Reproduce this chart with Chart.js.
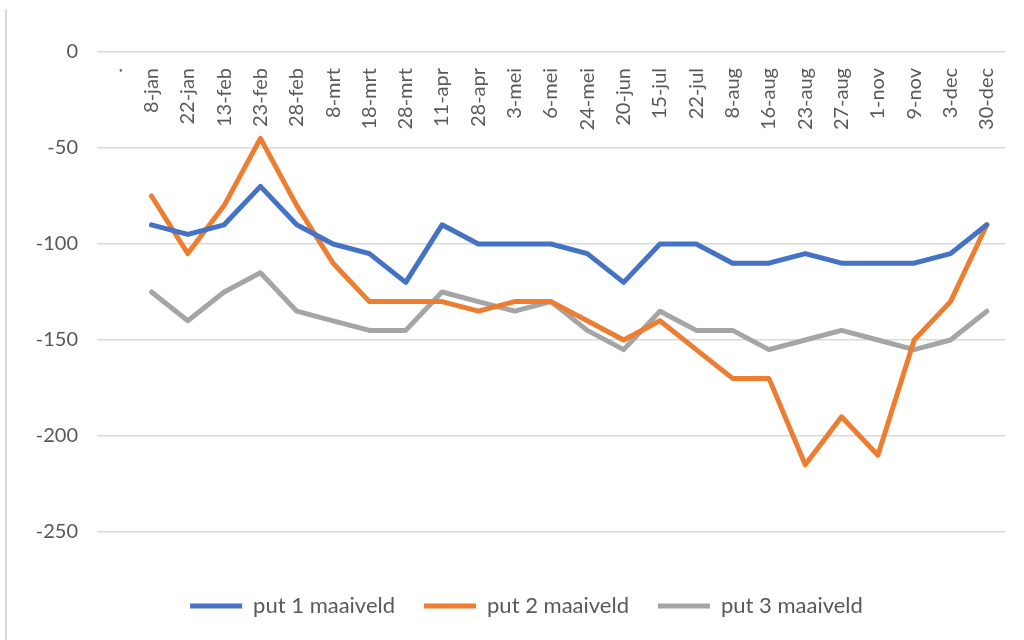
<!DOCTYPE html>
<html>
<head>
<meta charset="utf-8">
<script src="https://cdn.jsdelivr.net/npm/chart.js@4.4.0/dist/chart.umd.min.js"></script>
<style>
body{margin:0;background:#fff}
#wrap{position:relative;width:1024px;height:640px}
#frame{position:absolute;left:5px;top:9px;height:631px;border-left:2px solid #d9d9d9}
canvas{position:absolute;left:0;top:0}
</style>
</head>
<body>
<div id="wrap">
<div id="frame"></div>
<canvas id="myChart" width="1024" height="640"></canvas>
</div>
<script>
// data
let labels = ['.', '8-jan', '22-jan', '13-feb', '23-feb', '28-feb', '8-mrt', '18-mrt', '28-mrt', '11-apr', '28-apr', '3-mei', '6-mei',
    '24-mei', '20-jun', '15-jul', '22-jul', '8-aug', '16-aug', '23-aug', '27-aug', '1-nov', '9-nov', '3-dec', '30-dec']
let put1 = [null, -90, -95, -90, -70, -90, -100, -105, -120, -90, -100, -100, -100,
    -105, -120, -100, -100, -110, -110, -105, -110, -110, -110, -105, -90]
let put2 = [null, -75, -105, -80, -45, -80, -110, -130, -130, -130, -135, -130, -130,
    -140, -150, -140, -155, -170, -170, -215, -190, -210, -150, -130, -90]
let put3 = [null, -125, -140, -125, -115, -135, -140, -145, -145, -125, -130, -135, -130,
    -145, -155, -135, -145, -145, -155, -150, -145, -150, -155, -150, -135]
let yTicks = [0, -50, -100, -150, -200, -250]

let textColor = '#595959'
let font = 'Lato'

// category labels hang under the 0 line
let topLabels = {
    id: 'topLabels',
    beforeDraw(chart){
        // legend sits a bit right of the canvas centre
        chart.legend.left = 48
    },
    afterDraw(chart){
        let xs = chart.scales.x
        let ys = chart.scales.y
        let ctx = chart.ctx
        let y0 = ys.getPixelForValue(0) + 16
        ctx.save()
        ctx.fillStyle = textColor
        ctx.font = '20px ' + font
        ctx.textAlign = 'right'
        ctx.textBaseline = 'middle'
        labels.forEach(function(lab, i){
            ctx.save()
            ctx.translate(xs.getPixelForValue(i), y0)
            ctx.rotate(-Math.PI / 2)
            ctx.fillText(lab, 0, 0)
            ctx.restore()
        })
        ctx.restore()
    }
}

function line(label, data, color){
    return {
        label: label,
        data: data,
        borderColor: color,
        backgroundColor: color,
        borderWidth: 5,
        borderJoinStyle: 'round',
        borderCapStyle: 'round',
        pointRadius: 0,
        tension: 0
    }
}

let ctx = document.getElementById('myChart').getContext('2d')
let myChart = new Chart(ctx, {
    type: 'line',
    data: {
        labels: labels,
        datasets: [
            line('put 1 maaiveld', put1, '#4472c4'),
            line('put 2 maaiveld', put2, '#ed7d31'),
            line('put 3 maaiveld', put3, '#a5a5a5')
        ]
    },
    plugins: [topLabels],
    options: {
        responsive: false,
        animation: false,
        layout: {
            padding: {left: 0, right: 19, top: 52, bottom: 13}
        },
        scales: {
            x: {
                offset: true,
                grid: {display: false},
                border: {display: false},
                ticks: {display: false},
                afterFit: function(s){ s.height = 34 }
            },
            y: {
                min: -250,
                max: 0,
                afterBuildTicks: function(s){ s.ticks = yTicks.map(v => ({value: v})) },
                afterFit: function(s){ s.width = 97 },
                grid: {color: '#d9d9d9', lineWidth: 1.5, drawTicks: false},
                border: {display: false},
                ticks: {
                    color: textColor,
                    padding: 19,
                    font: {family: font, size: 20}
                }
            }
        },
        plugins: {
            tooltip: {enabled: false},
            legend: {
                position: 'bottom',
                labels: {
                    color: textColor,
                    font: {family: font, size: 22},
                    boxWidth: 52,
                    boxHeight: 5,
                    padding: 29,
                    generateLabels: function(chart){
                        let items = Chart.defaults.plugins.legend.labels.generateLabels(chart)
                        items.forEach(function(it){ it.lineWidth = 0 })
                        return items
                    }
                }
            }
        }
    }
})
</script>
</body>
</html>
